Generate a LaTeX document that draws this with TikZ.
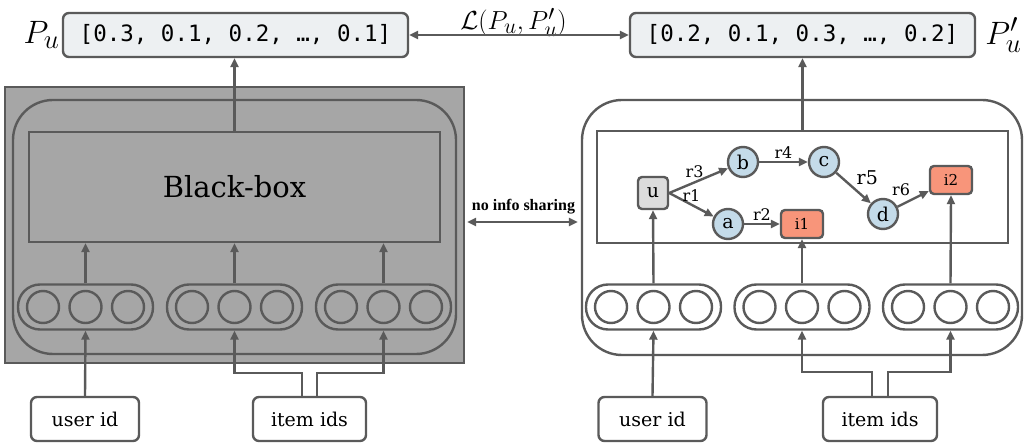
\documentclass[tikz,border=0pt]{standalone}
\usepackage[no-math]{fontspec}
\setmainfont{DejaVu Serif}
\newfontfamily\monofont{DejaVu Sans Mono}
\newfontfamily\tagfont{Liberation Serif}
\usepackage{amsmath}
\usepackage{graphicx}
\usepackage{xcolor}
\usepackage{tikz}
\usetikzlibrary{arrows.meta,positioning}
\definecolor{edgegray}{HTML}{5A5A5A}
\definecolor{probfill}{HTML}{EDF0F2}
\definecolor{shellgray}{HTML}{A6A6A6}
\definecolor{entblue}{HTML}{C4DBE9}
\definecolor{itemred}{HTML}{F8957A}
\definecolor{userfill}{HTML}{DCDCDC}
\tikzset{every picture/.style={line width=2.4pt}}
\tikzset{
  probbox/.style={draw=edgegray, fill=probfill, rounded corners=6pt, minimum width=345pt, minimum height=44pt, inner sep=0pt, font=\monofont\fontsize{22.5}{26}\selectfont},
  idbox/.style={draw=edgegray, fill=white, rounded corners=6pt, minimum width=108pt, minimum height=44pt, inner sep=0pt, font=\fontsize{19}{23}\selectfont},
  slot/.style={circle, draw=edgegray, minimum size=32pt, inner sep=0pt},
  slotgroup/.style={draw=edgegray, rounded corners=22pt, minimum width=135pt, minimum height=45pt},
  ent/.style={circle, draw=edgegray, fill=entblue, minimum size=30pt, inner sep=0pt, font=\fontsize{19}{22}\selectfont},
  itm/.style={draw=edgegray, fill=itemred, rounded corners=4pt, minimum width=42pt, minimum height=28pt, inner sep=0pt, font=\fontsize{15}{17}\selectfont},
  usr/.style={draw=edgegray, fill=userfill, rounded corners=4pt, minimum width=30pt, minimum height=32pt, inner sep=0pt, font=\fontsize{19}{22}\selectfont},
  arr/.style={draw=edgegray, -{Triangle[length=9pt,width=8pt]}},
  dblarr/.style={draw=edgegray, {Triangle[length=9pt,width=8pt]}-{Triangle[length=9pt,width=8pt]}},
  rel/.style={font=\fontsize{16}{18}\selectfont, inner sep=2pt},
  mathlbl/.style={font=\fontsize{24.88}{28}\selectfont, inner sep=0pt},
}

\begin{document}
\begin{tikzpicture}[x=1pt,y=-1pt]
\useasboundingbox (0,0) rectangle (1028,446);
%
% left: black-box model
\node[draw=edgegray, fill=shellgray, minimum width=459pt, minimum height=276pt] (shellL) at (234.5,225) {};
\node[draw=edgegray, rounded corners=40pt, minimum width=443pt, minimum height=254pt] (roundL) at (234.5,227) {};
\node[draw=edgegray, minimum width=411pt, minimum height=110pt, font=\fontsize{29}{33}\selectfont] (bbox) at (234.5,187) {Black-box};
%
% right: knowledge graph model
\node[draw=edgegray, rounded corners=40pt, minimum width=440pt, minimum height=255pt] (roundR) at (802,227.5) {};
\node[draw=edgegray, minimum width=411pt, minimum height=112pt] (kg) at (802.5,187) {};
%
% embedding slots
\foreach \gx/\gn in {85.5/L1, 234.5/L2, 383.5/L3, 653.5/R1, 802/R2, 950.5/R3} {
  \node[slotgroup] (g\gn) at (\gx,307) {};
  \foreach \dx [count=\k] in {-42.5,0,42.5}
    \node[slot] (s\gn-\k) at (\gx+\dx,307) {};
}
%
% predictions
\node[probbox] (pu) at (235.5,35) {[0.3, 0.1, 0.2, …, 0.1]};
\node[probbox] (pv) at (802.5,35) {[0.2, 0.1, 0.3, …, 0.2]};
\node[mathlbl, left=1pt of pu] (pulbl) {\scalebox{1.3}{$P_u$}};
\node[mathlbl, right=8pt of pv] (pvlbl) {\scalebox{1.3}{$P'_u$}};
\node[mathlbl, anchor=base] (loss) at (513.5,30) {\scalebox{1.05}{$\mathcal{L}(P_u, P'_u)$}};
\draw[dblarr] (pu.east) -- (pv.west);
%
% inputs
\node[idbox] (uidL) at (85,419) {user id};
\node[idbox, minimum width=113pt] (iidL) at (309.5,419) {item ids};
\node[idbox] (uidR) at (652.5,419) {user id};
\node[idbox, minimum width=114pt] (iidR) at (880,419) {item ids};
%
% graph
\node[usr] (u) at (653,193) {u};
\node[ent] (b) at (743,162) {b};
\node[ent] (c) at (824,162) {c};
\node[ent] (a) at (728,224) {a};
\node[ent] (d) at (883,214) {d};
\node[itm] (i1) at (802,224) {i1};
\node[itm] (i2) at (951,180) {i2};
\draw[arr] (u.east) -- node[rel, above, xshift=-4pt] {r3} (b);
\draw[arr] (u.east) -- node[rel, above] {r1} (a);
\draw[arr] (a) -- node[rel, above] {r2} (i1);
\draw[arr] (b) -- node[rel, above] {r4} (c);
\draw[arr] (c) -- node[rel, above right=0pt, font=\fontsize{19}{21}\selectfont] {r5} (d);
\draw[arr] (d) -- node[rel, above left=0pt] {r6} (i2);
%
% connectors
\draw[arr] (bbox.north) -- (bbox.north |- pu.south);
\draw[arr] (kg.north) -- (kg.north |- pv.south);
\foreach \gn in {L1, L2, L3}
  \draw[arr] (g\gn.north) -- (g\gn.north |- bbox.south);
\draw[arr] (gR1.north) -- (u.south);
\draw[arr] (gR2.north) -- (i1.south);
\draw[arr] (gR3.north) -- (i2.south);
\draw[arr] (uidL.north) -- (gL1.south);
\draw[arr] (uidR.north) -- (gR1.south);
\draw[arr] ([xshift=-7.5pt]iidL.north) -- ++(0,-23) -| (gL2.south);
\draw[arr] ([xshift=7.5pt]iidL.north) -- ++(0,-23) -| (gL3.south);
\draw[arr] ([xshift=-8pt]iidR.north) -- ++(0,-24) -| (gR2.south);
\draw[arr] ([xshift=8pt]iidR.north) -- ++(0,-24) -| (gR3.south);
%
\node[font=\tagfont\bfseries\fontsize{16}{18}\selectfont, inner sep=0pt] (noinfo) at (523.5,207) {no info sharing};
\draw[dblarr, shorten <=2pt, shorten >=3pt] (shellL.east |- 0,222) -- (roundR.west |- 0,222);
\end{tikzpicture}
\end{document}
